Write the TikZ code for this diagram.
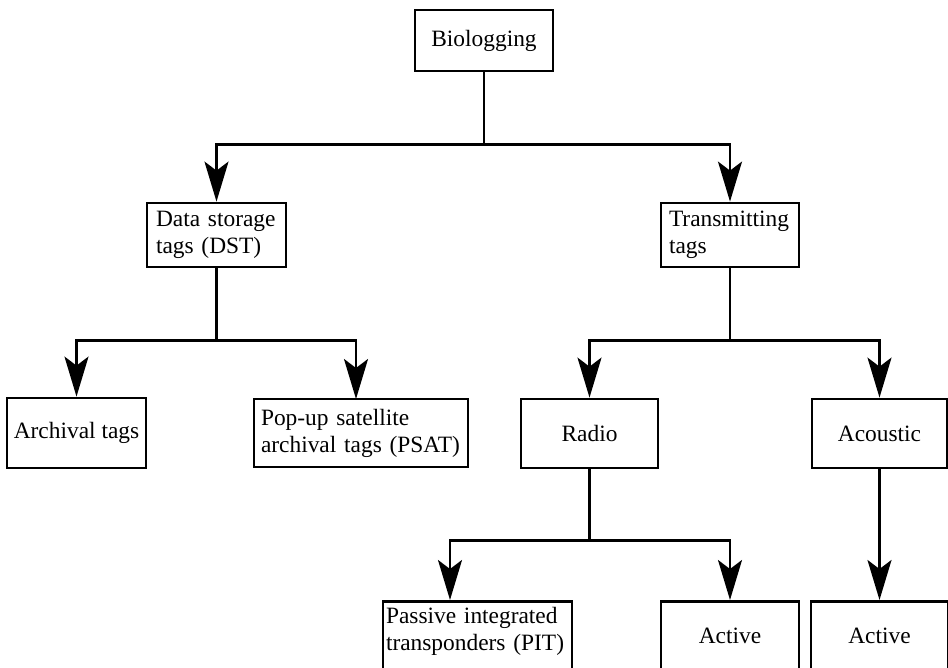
\documentclass[tikz,border=0pt]{standalone}
\usepackage{fontspec}
\setmainfont{Liberation Serif}
\usetikzlibrary{arrows.meta}
\begin{document}
\begin{tikzpicture}[x=1pt,y=-1pt,
  boxbase/.style={draw, line width=2.8pt, inner ysep=0pt,
    font=\fontsize{23.4}{27}\selectfont},
  cbox/.style={boxbase, align=center, inner xsep=0pt},
  lbox/.style={boxbase, align=left},
  conn/.style={line width=2.3pt,
    -{Stealth[length=40pt, width=24pt, inset=9pt]}}
]
\useasboundingbox (0,0) rectangle (948,668);
\clip (0,0) rectangle (948,668);

% top level
\node[cbox, minimum width=138pt, minimum height=61pt] (bio) at (484,40.5) {Biologging};

% second level
\node[lbox, inner xsep=9pt, text width=121pt, minimum height=64pt] (dst) at (216.5,235) {Data storage\\tags (DST)};
\node[lbox, inner xsep=8pt, text width=122pt, minimum height=64pt] (trans) at (730,235) {Transmitting\\tags};

% third level
\node[cbox, minimum width=139pt, minimum height=70pt] (arch) at (76.5,433) {Archival tags};
\node[lbox, inner xsep=7pt, text width=200pt, minimum height=68pt] (psat) at (361,433) {Pop-up satellite\\archival tags (PSAT)};
\node[cbox, minimum width=137pt, minimum height=69pt] (radio) at (589.5,433.5) {Radio};
\node[cbox, minimum width=135pt, minimum height=69pt] (acou) at (879.5,433.5) {Acoustic};

% bottom level: boxes run past the lower edge
\node[lbox, anchor=north, inner xsep=3pt, text width=183pt, text height=22pt, text depth=68pt] (pit) at (477.5,600) {Passive integrated\\transponders (PIT)};
\node[cbox, anchor=north, minimum width=138pt, text height=42pt, text depth=48pt] (act1) at (730,600) {Active};
\node[cbox, anchor=north, minimum width=137pt, text height=42pt, text depth=48pt] (act2) at (879.5,600) {Active};

% arrow ends that sit off the box centres
\coordinate (psatin) at (356,399);
\coordinate (pitin) at (450,600);

% connectors
\draw[conn] (bio.south) -- ++(0,72) -| (dst.north);
\draw[conn] (bio.south) -- ++(0,72) -| (trans.north);
\draw[conn] (dst.south) -- ++(0,72) -| (arch.north);
\draw[conn] (dst.south) -- ++(0,72) -| (psatin);
\draw[conn] (trans.south) -- ++(0,72) -| (radio.north);
\draw[conn] (trans.south) -- ++(0,72) -| (acou.north);
\draw[conn] (radio.south) -- ++(0,71) -| (pitin);
\draw[conn] (radio.south) -- ++(0,71) -| (act1.north);
\draw[conn] (acou.south) -- (act2.north);
\end{tikzpicture}
\end{document}
